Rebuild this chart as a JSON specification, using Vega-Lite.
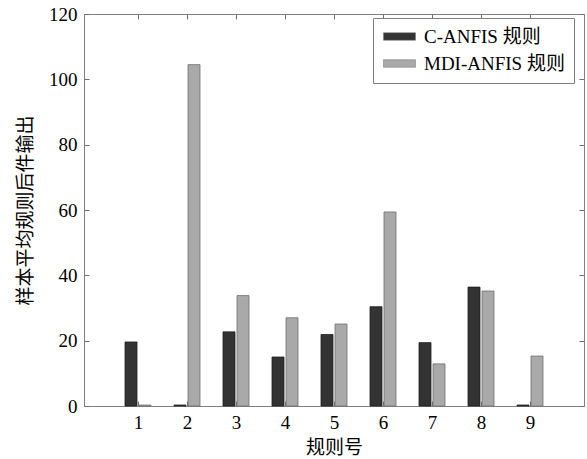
{
  "$schema": "https://vega.github.io/schema/vega-lite/v6.json",
  "width": 500,
  "height": 392,
  "autosize": {"type": "none"},
  "padding": {"left": 84, "top": 14, "right": 3, "bottom": 53},
  "background": "white",
  "config": {
    "view": {"stroke": "#808080", "strokeWidth": 1},
    "axis": {
      "labelFont": "Liberation Serif",
      "labelFontSize": 19,
      "labelColor": "#000000",
      "tickColor": "#707070",
      "domain": false,
      "grid": false,
      "titleFont": "Noto Sans CJK SC",
      "titleFontSize": 19,
      "titleFontWeight": "normal",
      "titleColor": "#000000"
    }
  },
  "data": {
    "values": [
      {"rule": 1, "series": "C-ANFIS 规则", "value": 19.6},
      {"rule": 2, "series": "C-ANFIS 规则", "value": 0.3},
      {"rule": 3, "series": "C-ANFIS 规则", "value": 22.7},
      {"rule": 4, "series": "C-ANFIS 规则", "value": 15.0},
      {"rule": 5, "series": "C-ANFIS 规则", "value": 21.9},
      {"rule": 6, "series": "C-ANFIS 规则", "value": 30.4},
      {"rule": 7, "series": "C-ANFIS 规则", "value": 19.4},
      {"rule": 8, "series": "C-ANFIS 规则", "value": 36.4},
      {"rule": 9, "series": "C-ANFIS 规则", "value": 0.3},
      {"rule": 1, "series": "MDI-ANFIS 规则", "value": 0.3},
      {"rule": 2, "series": "MDI-ANFIS 规则", "value": 104.5},
      {"rule": 3, "series": "MDI-ANFIS 规则", "value": 33.8},
      {"rule": 4, "series": "MDI-ANFIS 规则", "value": 27.0},
      {"rule": 5, "series": "MDI-ANFIS 规则", "value": 25.1},
      {"rule": 6, "series": "MDI-ANFIS 规则", "value": 59.4},
      {"rule": 7, "series": "MDI-ANFIS 规则", "value": 12.9},
      {"rule": 8, "series": "MDI-ANFIS 规则", "value": 35.2},
      {"rule": 9, "series": "MDI-ANFIS 规则", "value": 15.3}
    ]
  },
  "resolve": {"axis": {"x": "independent", "y": "independent"}},
  "layer": [
    {
      "transform": [{"filter": "datum.series === 'C-ANFIS 规则'"}],
      "mark": {"type": "bar", "width": 12, "xOffset": -7, "stroke": "#1e1e1e", "strokeWidth": 0.8, "opacity": 1},
      "encoding": {
        "x": {"field": "rule", "type": "quantitative", "scale": {"domain": [0, 10], "nice": false, "zero": false},
          "axis": {"values": [1, 2, 3, 4, 5, 6, 7, 8, 9], "tickSize": -5, "labelPadding": 12, "title": "规则号", "titlePadding": 6, "labelFlush": false}},
        "y": {"field": "value", "type": "quantitative", "scale": {"domain": [0, 120], "nice": false},
          "axis": {"values": [0, 20, 40, 60, 80, 100, 120], "tickSize": -5, "labelPadding": 12, "title": "样本平均规则后件输出", "titlePadding": 13}},
        "color": {"field": "series", "type": "nominal",
          "scale": {"domain": ["C-ANFIS 规则", "MDI-ANFIS 规则"], "range": ["#333333", "#a9a9a9"]},
          "legend": {"orient": "none", "legendX": 289, "legendY": 4, "title": null,
            "symbolType": "M-1,-0.47H3V0.47H-1Z", "symbolSize": 256, "symbolOpacity": 1,
            "symbolStrokeColor": "#808080", "symbolStrokeWidth": 0.5,
            "labelFont": "Liberation Serif, Noto Sans CJK SC", "labelFontSize": 19, "labelColor": "#000000",
            "padding": 9, "strokeColor": "#808080", "fillColor": "white", "labelOffset": 23, "rowPadding": 7}}
      }
    },
    {
      "transform": [{"filter": "datum.series === 'MDI-ANFIS 规则'"}],
      "mark": {"type": "bar", "width": 12, "xOffset": 7, "stroke": "#707070", "strokeWidth": 0.8, "opacity": 1},
      "encoding": {
        "x": {"field": "rule", "type": "quantitative", "axis": null},
        "y": {"field": "value", "type": "quantitative", "axis": null},
        "color": {"field": "series", "type": "nominal"}
      }
    },
    {
      "mark": {"type": "point", "opacity": 0},
      "encoding": {
        "x": {"field": "rule", "type": "quantitative",
          "axis": {"orient": "top", "values": [1, 2, 3, 4, 5, 6, 7, 8, 9], "tickSize": -5, "labels": false, "title": null}},
        "y": {"field": "value", "type": "quantitative",
          "axis": {"orient": "right", "values": [0, 20, 40, 60, 80, 100, 120], "tickSize": -5, "labels": false, "title": null}}
      }
    }
  ]
}
